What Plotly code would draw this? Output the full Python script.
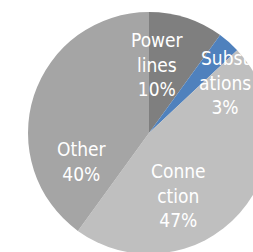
import plotly.graph_objects as go

categories = ["Power lines", "Substations", "Connection", "Other"]
shares = [10, 3, 47, 40]
label_lines = [["Power", "lines"], ["Subst", "ations"], ["Conne", "ction"], ["Other"]]
colors = ["#7f7f7f", "#4f81bd", "#bfbfbf", "#a5a5a5"]

W, H = 300, 270
# label anchor positions (pixels from top-left of the figure)
label_pos = [(158, 64), (225, 83), (178, 195), (82, 161)]

fig = go.Figure(go.Pie(
    labels=categories,
    values=shares,
    textinfo="none",
    sort=False,
    direction="clockwise",
    marker=dict(colors=colors, line=dict(width=0)),
    domain=dict(x=[28 / W, 270 / W], y=[(H - 254) / H, (H - 12) / H]),
    hoverinfo="label+percent",
))

total = sum(shares)
for lines, v, (px, py) in zip(label_lines, shares, label_pos):
    txt = "<br>".join(lines + [f"{round(100 * v / total)}%"])
    fig.add_annotation(
        text=txt, x=px / W, y=1 - py / H, xref="paper", yref="paper",
        xanchor="center", yanchor="middle", showarrow=False, align="center",
        font=dict(family="DejaVu Sans Condensed, Liberation Sans Narrow, sans-serif",
                  size=19, color="white"),
    )

fig.update_layout(
    width=W, height=H,
    margin=dict(l=0, r=0, t=0, b=0),
    showlegend=False,
    paper_bgcolor="white",
)
fig.write_html("out.html", config={"displayModeBar": False},
               post_script="document.body.style.margin='0';document.body.style.overflow='hidden';document.documentElement.style.overflow='hidden';")
